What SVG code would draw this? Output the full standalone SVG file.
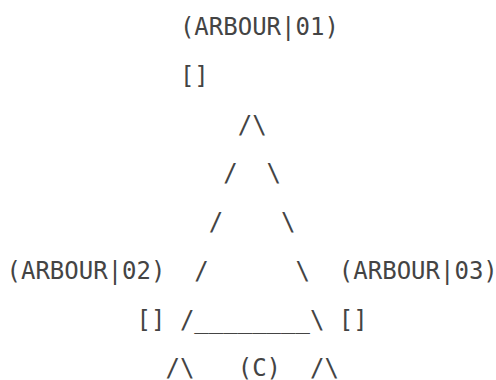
<svg xmlns="http://www.w3.org/2000/svg" width="496" height="380" viewBox="0 0 496 380">
<style>
text{font-family:"DejaVu Sans Mono","Liberation Mono",monospace;font-size:24px;fill:#444;white-space:pre}
</style>
<rect width="496" height="380" fill="#fff"/>
<g id="arbour01">
<text x="179.9" y="35">(ARBOUR|01)</text>
<text x="179.9" y="83.75">[]</text>
</g>
<g id="arbour02">
<text x="6.5" y="278.75">(ARBOUR|02)</text>
<text x="136.55" y="327.5">[]</text>
<text x="165.45" y="376.25">/\</text>
</g>
<g id="arbour03">
<text x="338.85" y="278.75">(ARBOUR|03)</text>
<text x="338.85" y="327.5">[]</text>
<text x="309.95" y="376.25">/\</text>
</g>
<g id="connectors">
<text x="237.7" y="132.5">/\</text>
<text x="223.25" y="181.25">/</text>
<text x="266.6" y="181.25">\</text>
<text x="208.8" y="230">/</text>
<text x="281.05" y="230">\</text>
<text x="194.35" y="278.75">/</text>
<text x="295.5" y="278.75">\</text>
<text x="179.9" y="327.5">/________\</text>
</g>
<g id="center">
<text x="237.7" y="376.25">(C)</text>
</g>
</svg>
